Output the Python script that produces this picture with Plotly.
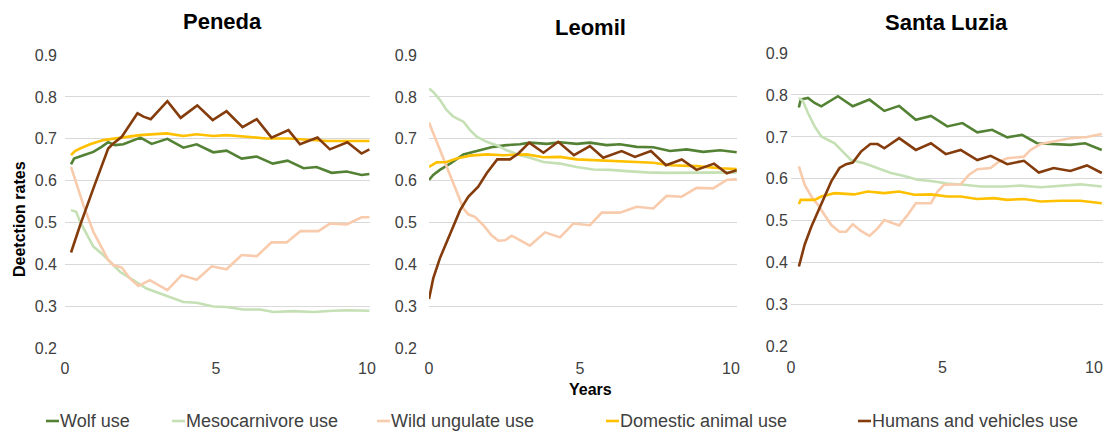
import plotly.graph_objects as go

# ---------------- data (years, detection rate) ----------------
# Peneda
pen_wolf_t = [0.2, 0.3, 0.61, 0.94, 1.21, 1.43, 1.66, 1.93, 2.5, 2.87, 3.39, 3.92, 4.36, 4.91, 5.35, 5.85, 6.35, 6.88, 7.37, 7.9, 8.33, 8.83, 9.33, 9.82, 10.08]
pen_wolf_v = [0.639, 0.653, 0.661, 0.669, 0.681, 0.692, 0.685, 0.687, 0.703, 0.688, 0.700, 0.679, 0.687, 0.668, 0.672, 0.653, 0.658, 0.641, 0.648, 0.630, 0.633, 0.619, 0.622, 0.614, 0.616]
pen_meso_t = [0.2, 0.37, 0.5, 0.8, 0.94, 1.27, 1.49, 1.82, 2.26, 2.7, 3.15, 3.48, 3.92, 4.36, 4.91, 5.35, 5.9, 6.46, 6.9, 7.56, 8.22, 8.89, 9.33, 10.08]
pen_meso_v = [0.530, 0.526, 0.502, 0.462, 0.443, 0.423, 0.407, 0.383, 0.363, 0.343, 0.331, 0.323, 0.311, 0.309, 0.300, 0.299, 0.293, 0.293, 0.287, 0.289, 0.287, 0.290, 0.291, 0.290]
pen_wild_t = [0.2, 0.39, 0.61, 0.94, 1.16, 1.43, 1.6, 1.88, 2.15, 2.43, 2.81, 3.39, 3.86, 4.36, 4.86, 5.35, 5.85, 6.35, 6.84, 7.34, 7.8, 8.39, 8.77, 9.33, 9.82, 10.08]
pen_wild_v = [0.633, 0.590, 0.542, 0.478, 0.447, 0.411, 0.399, 0.393, 0.367, 0.349, 0.363, 0.339, 0.375, 0.364, 0.396, 0.389, 0.423, 0.420, 0.453, 0.453, 0.480, 0.480, 0.498, 0.496, 0.513, 0.513]
pen_dom_t = [0.2, 0.33, 0.5, 0.83, 1.27, 1.82, 2.48, 3.37, 3.92, 4.36, 4.91, 5.35, 6.0, 6.68, 7.4, 8.1, 8.7, 10.08]
pen_dom_v = [0.661, 0.671, 0.677, 0.687, 0.697, 0.703, 0.709, 0.713, 0.707, 0.711, 0.707, 0.709, 0.705, 0.701, 0.701, 0.697, 0.695, 0.695]
pen_hum_t = [0.2, 0.5, 0.94, 1.43, 1.6, 1.88, 2.4, 2.6, 2.84, 3.39, 3.83, 4.38, 4.89, 5.35, 5.88, 6.35, 6.84, 7.4, 7.78, 8.36, 8.77, 9.35, 9.82, 10.08]
pen_hum_v = [0.429, 0.494, 0.582, 0.677, 0.689, 0.705, 0.761, 0.753, 0.747, 0.790, 0.750, 0.780, 0.745, 0.766, 0.728, 0.747, 0.703, 0.721, 0.687, 0.703, 0.675, 0.692, 0.665, 0.675]

# Leomil
leo_wolf_t = [0.0, 0.14, 0.36, 0.7, 1.14, 1.58, 2.13, 2.57, 3.01, 3.34, 3.9, 4.34, 4.89, 5.33, 5.88, 6.32, 6.88, 7.43, 7.98, 8.53, 9.08, 9.64, 10.19]
leo_wolf_v = [0.602, 0.614, 0.626, 0.641, 0.663, 0.671, 0.681, 0.685, 0.687, 0.691, 0.688, 0.692, 0.688, 0.691, 0.685, 0.687, 0.681, 0.680, 0.671, 0.675, 0.669, 0.673, 0.668]
leo_meso_t = [0.0, 0.14, 0.36, 0.58, 0.81, 1.14, 1.36, 1.58, 1.91, 2.24, 2.57, 3.01, 3.34, 3.79, 4.34, 4.89, 5.44, 5.99, 6.54, 7.21, 7.87, 8.53, 9.08, 9.86, 10.19]
leo_meso_v = [0.820, 0.812, 0.793, 0.769, 0.753, 0.741, 0.721, 0.705, 0.693, 0.685, 0.673, 0.661, 0.655, 0.645, 0.641, 0.633, 0.627, 0.626, 0.623, 0.620, 0.619, 0.619, 0.620, 0.619, 0.620]
leo_wild_t = [0.0, 0.25, 0.47, 0.69, 0.92, 1.14, 1.3, 1.52, 1.8, 2.07, 2.3, 2.52, 2.74, 3.01, 3.34, 3.84, 4.34, 4.78, 5.33, 5.72, 6.32, 6.88, 7.43, 7.87, 8.37, 8.86, 9.41, 9.86, 10.19]
leo_wild_v = [0.739, 0.693, 0.653, 0.614, 0.574, 0.534, 0.520, 0.514, 0.494, 0.470, 0.457, 0.458, 0.469, 0.458, 0.445, 0.477, 0.465, 0.498, 0.494, 0.524, 0.524, 0.538, 0.534, 0.564, 0.562, 0.583, 0.582, 0.602, 0.604]
leo_dom_t = [0.0, 0.25, 0.58, 0.92, 1.36, 1.91, 2.46, 3.23, 3.79, 4.34, 4.89, 5.77, 6.32, 7.43, 7.98, 8.86, 9.64, 10.19]
leo_dom_v = [0.633, 0.644, 0.645, 0.653, 0.660, 0.663, 0.661, 0.663, 0.656, 0.657, 0.651, 0.648, 0.645, 0.643, 0.637, 0.635, 0.630, 0.628]
leo_hum_t = [0.0, 0.14, 0.36, 0.58, 0.81, 1.03, 1.3, 1.63, 1.91, 2.26, 2.68, 2.96, 3.32, 3.79, 4.28, 4.8, 5.33, 5.77, 6.38, 6.82, 7.35, 7.85, 8.37, 8.86, 9.44, 9.86, 10.19]
leo_hum_v = [0.318, 0.367, 0.415, 0.454, 0.494, 0.530, 0.562, 0.586, 0.618, 0.651, 0.651, 0.665, 0.691, 0.667, 0.693, 0.661, 0.683, 0.655, 0.671, 0.657, 0.671, 0.637, 0.651, 0.626, 0.641, 0.618, 0.625]

# Santa Luzia
stl_wolf_t = [0.26, 0.32, 0.56, 0.78, 1.0, 1.55, 2.04, 2.59, 3.08, 3.57, 4.12, 4.62, 5.16, 5.66, 6.15, 6.64, 7.14, 7.63, 8.12, 8.67, 9.22, 9.71, 10.26]
stl_wolf_v = [0.770, 0.789, 0.793, 0.781, 0.773, 0.797, 0.773, 0.789, 0.762, 0.774, 0.741, 0.750, 0.725, 0.733, 0.711, 0.717, 0.699, 0.705, 0.685, 0.683, 0.681, 0.685, 0.669]
stl_meso_t = [0.26, 0.39, 0.56, 0.78, 1.0, 1.44, 1.71, 1.98, 2.42, 2.86, 3.3, 3.74, 4.18, 4.62, 5.16, 5.71, 6.26, 7.03, 7.58, 8.24, 8.89, 9.55, 10.26]
stl_meso_v = [0.793, 0.786, 0.757, 0.725, 0.701, 0.685, 0.665, 0.645, 0.637, 0.626, 0.614, 0.607, 0.598, 0.595, 0.589, 0.586, 0.582, 0.582, 0.584, 0.580, 0.583, 0.587, 0.582]
stl_wild_t = [0.26, 0.45, 0.67, 0.89, 1.11, 1.33, 1.6, 1.82, 2.04, 2.31, 2.59, 2.86, 3.08, 3.57, 3.85, 4.12, 4.62, 4.84, 5.05, 5.6, 5.88, 6.15, 6.59, 6.86, 7.14, 7.69, 7.91, 8.24, 8.67, 9.22, 9.77, 10.26]
stl_wild_v = [0.630, 0.586, 0.558, 0.538, 0.514, 0.490, 0.474, 0.474, 0.492, 0.476, 0.464, 0.482, 0.502, 0.489, 0.514, 0.542, 0.542, 0.570, 0.586, 0.587, 0.610, 0.623, 0.626, 0.641, 0.649, 0.653, 0.669, 0.683, 0.689, 0.697, 0.700, 0.707]
stl_dom_t = [0.26, 0.32, 0.78, 1.0, 1.44, 2.09, 2.53, 3.08, 3.57, 4.07, 4.62, 5.16, 5.6, 6.15, 6.7, 7.14, 7.69, 8.24, 8.89, 9.55, 10.26]
stl_dom_v = [0.540, 0.550, 0.550, 0.558, 0.566, 0.563, 0.570, 0.566, 0.570, 0.562, 0.563, 0.558, 0.558, 0.552, 0.554, 0.550, 0.552, 0.546, 0.548, 0.548, 0.542]
stl_hum_t = [0.26, 0.45, 0.67, 1.0, 1.33, 1.6, 1.82, 2.04, 2.31, 2.62, 2.86, 3.08, 3.57, 4.12, 4.62, 5.11, 5.6, 6.15, 6.59, 7.14, 7.69, 8.18, 8.67, 9.22, 9.77, 10.26]
stl_hum_v = [0.391, 0.443, 0.486, 0.542, 0.594, 0.626, 0.635, 0.639, 0.665, 0.683, 0.683, 0.673, 0.697, 0.669, 0.685, 0.659, 0.669, 0.645, 0.655, 0.635, 0.643, 0.615, 0.626, 0.619, 0.632, 0.614]

site_names = ["Peneda", "Leomil", "Santa Luzia"]
series_names = ["Wolf use", "Mesocarnivore use", "Wild ungulate use", "Domestic animal use", "Humans and vehicles use"]
series_colors = ["#548235", "#C5E0B4", "#F8CBAD", "#FFC000", "#843C0C"]
y_ticks = [0.2, 0.3, 0.4, 0.5, 0.6, 0.7, 0.8, 0.9]
x_ticks = [0, 5, 10]

site_data = [
    [(pen_wolf_t, pen_wolf_v), (pen_meso_t, pen_meso_v), (pen_wild_t, pen_wild_v), (pen_dom_t, pen_dom_v), (pen_hum_t, pen_hum_v)],
    [(leo_wolf_t, leo_wolf_v), (leo_meso_t, leo_meso_v), (leo_wild_t, leo_wild_v), (leo_dom_t, leo_dom_v), (leo_hum_t, leo_hum_v)],
    [(stl_wolf_t, stl_wolf_v), (stl_meso_t, stl_meso_v), (stl_wild_t, stl_wild_v), (stl_dom_t, stl_dom_v), (stl_hum_t, stl_hum_v)],
]

# ---------------- layout geometry ----------------
W, H = 1105, 432
FONT = "Arial, 'Liberation Sans', sans-serif"
TXT = "#404040"

x_domains = [[65 / W, 370 / W], [429 / W, 737 / W], [791 / W, 1103 / W]]
x_ranges = [[0, 10.1], [0, 10.2], [0, 10.3]]
y_domains = [[1 - 349.3 / H, 1 - 54.2 / H], [1 - 349.3 / H, 1 - 54.2 / H], [1 - 347.5 / H, 1 - 52.2 / H]]
y_standoff = [7, 11, 2]
title_pos = [(222, 21), (590, 27), (946, 22)]
legend_starts = [46, 172, 377, 606, 858]   # pixel x of each legend dash
LEG_Y = 421

fig = go.Figure()

for i, series in enumerate(site_data):
    sfx = "" if i == 0 else str(i + 1)
    for j, (t, v) in enumerate(series):
        fig.add_trace(go.Scatter(
            x=t, y=v, mode="lines",
            name=series_names[j],
            legendgroup=series_names[j],
            showlegend=False,
            line=dict(color=series_colors[j], width=2.6),
            xaxis="x" + sfx, yaxis="y" + sfx,
        ))
    fig.layout["xaxis" + sfx] = dict(
        domain=x_domains[i], range=x_ranges[i], anchor="y" + sfx,
        tickvals=x_ticks, showgrid=False, zeroline=False, showline=False,
        ticks="", ticklabelstandoff=8, automargin=False,
        tickfont=dict(family=FONT, size=16, color=TXT),
    )
    fig.layout["yaxis" + sfx] = dict(
        domain=y_domains[i], range=[0.198, 0.902], anchor="x" + sfx,
        tickvals=y_ticks, tickformat=".1f", showgrid=True,
        gridcolor="#D9D9D9", gridwidth=1, zeroline=False, showline=False,
        ticks="", ticklabelstandoff=y_standoff[i], automargin=False,
        tickfont=dict(family=FONT, size=16, color=TXT),
    )

annotations = []
shapes = []
for name, (px, py) in zip(site_names, title_pos):
    annotations.append(dict(
        text="<b>%s</b>" % name, x=px / W, y=1 - py / H, xref="paper", yref="paper",
        xanchor="center", yanchor="middle", showarrow=False,
        font=dict(family=FONT, size=22, color="#000000"),
    ))
annotations.append(dict(
    text="<b>Deetction rates</b>", x=19 / W, y=1 - 219 / H, xref="paper", yref="paper",
    xanchor="center", yanchor="middle", textangle=-90, showarrow=False,
    font=dict(family=FONT, size=16, color="#000000"),
))
annotations.append(dict(
    text="<b>Years</b>", x=590 / W, y=1 - 389 / H, xref="paper", yref="paper",
    xanchor="center", yanchor="middle", showarrow=False,
    font=dict(family=FONT, size=16, color="#000000"),
))

# legend: short coloured dash followed by the series name
for name, color, x0 in zip(series_names, series_colors, legend_starts):
    shapes.append(dict(
        type="line", xref="paper", yref="paper",
        x0=x0 / W, x1=(x0 + 13) / W, y0=1 - LEG_Y / H, y1=1 - LEG_Y / H,
        line=dict(color=color, width=2.6),
    ))
    annotations.append(dict(
        text=name, x=(x0 + 13) / W, y=1 - LEG_Y / H, xref="paper", yref="paper",
        xanchor="left", yanchor="middle", showarrow=False, borderpad=0,
        font=dict(family=FONT, size=18, color=TXT),
    ))

fig.update_layout(
    width=W, height=H,
    margin=dict(l=0, r=0, t=0, b=0),
    paper_bgcolor="white", plot_bgcolor="white",
    annotations=annotations,
    shapes=shapes,
    showlegend=False,
)

fig.write_html(
    "out.html",
    config={"displayModeBar": False},
    post_script="document.body.style.margin='0';document.body.style.overflow='hidden';",
)
